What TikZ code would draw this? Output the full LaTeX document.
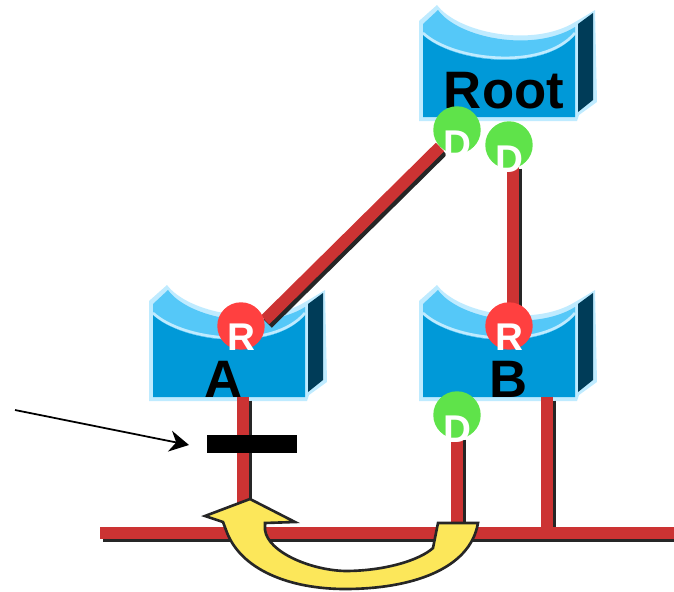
\documentclass[tikz,border=0pt]{standalone}
\usepackage{fontspec}
\setmainfont{Liberation Sans}
\usetikzlibrary{arrows.meta}
\definecolor{bodyblue}{HTML}{0099D8}
\definecolor{topblue}{HTML}{55C8F8}
\definecolor{sideblue}{HTML}{003C58}
\definecolor{haloblue}{HTML}{BFEBFF}
\definecolor{linkred}{HTML}{CC3333}
\definecolor{portgreen}{HTML}{5FE34A}
\definecolor{portred}{HTML}{FF4040}
\definecolor{swapyellow}{HTML}{FCE75A}
\tikzset{
  link/.style = {linkred, line width = 6.8pt},
  linkshade/.style = {black!85, line width = 6.8pt},
  port/.style = {circle, inner sep = 0, minimum size = 27pt},
  letter/.style = {white, inner sep = 0, font = \fontsize{22}{22}\selectfont\bfseries},
  swlabel/.style = {black, inner sep = 0, font = \fontsize{30}{30}\selectfont\bfseries},
  switchbox/.pic = {
    \fill [haloblue] (-4, 13) -- (14, -3) .. controls (35, 25) and (110, 40) .. (152, 14) -- (159, 10) -- (172, 2) -- (174, 94) -- (156, 107) -- (154, 113) -- (-4, 113) -- cycle;
    \fill [topblue] (0, 16) -- (15, 2) .. controls (35, 30) and (110, 45) .. (152, 19) -- (152, 27) .. controls (120, 65) and (30, 55) .. (0, 27) -- cycle;
    \fill [bodyblue] (0, 27) .. controls (30, 55) and (120, 65) .. (152, 27) -- (152, 109) -- (0, 109) -- cycle;
    \draw [haloblue, line width = 1.5pt] (0, 25) .. controls (30, 53) and (120, 63) .. (152, 25);
    \fill [sideblue] (155, 16) -- (170, 5) -- (170, 92) -- (155, 104) -- cycle;
  }
}

\begin{document}
\begin{tikzpicture}[x=0.02cm, y=-0.02cm]
      \useasboundingbox (0, 0) rectangle (674, 592);

      \pic at (423, 8) {switchbox};
      \pic at (153, 288) {switchbox};
      \pic at (423, 288) {switchbox};

      \node [swlabel] (labelRoot) at (504, 91) {Root};
      \node [swlabel] (labelA) at (224, 379) {A};
      \node [swlabel] (labelB) at (509, 379) {B};

      \coordinate (busL) at (100, 533);
      \coordinate (busR) at (674, 533);
      \coordinate (dropA) at (243, 397);
      \coordinate (busA) at (243, 533);
      \coordinate (dropB) at (457, 436);
      \coordinate (busB) at (457, 533);
      \coordinate (dropS) at (547, 397);
      \coordinate (busS) at (547, 533);
      \coordinate (topR) at (513, 165);
      \coordinate (lowR) at (513, 305);
      \coordinate (diagA) at (440, 147);
      \coordinate (diagB) at (265, 320);

      \foreach \from/\to in {diagA/diagB, topR/lowR, dropA/busA, dropB/busB, dropS/busS, busL/busR} {
        \draw [linkshade] ([xshift=1.5pt, yshift=-2pt]\from) -- ([xshift=1.5pt, yshift=-2pt]\to);
        \draw [link] (\from) -- (\to);
      }

      \foreach \name/\x/\y/\col/\txt/\drop in {rootA/457/130/portgreen/D/8pt, rootB/509/145/portgreen/D/8pt, portA/241/326/portred/R/6.5pt, portB/509/326/portred/R/6.5pt, portC/457/415/portgreen/D/8pt} {
        \node [port, fill=\col] (\name) at (\x, \y) {};
        \node [letter] (\name L) at ([yshift=-\drop]\name) {\txt};
      }

      \node [fill=black, inner sep=0, minimum width=51pt, minimum height=10pt] (block) at (252, 444) {};

      \coordinate (pointerS) at (15, 410);
      \coordinate (pointerE) at (189, 445);
      \draw [-{Stealth[length=11pt, width=12pt]}, line width=1pt] (pointerS) -- (pointerE);

      \draw [fill=swapyellow, draw=black!85, line width=1.5pt, miter limit=10]
        (250, 499) -- (295, 522) -- (265, 523) -- (265, 530)
        .. controls (268, 552) and (310, 570) .. (345, 571)
        .. controls (385, 571) and (420, 560) .. (433, 548)
        -- (438, 523) -- (478, 523)
        .. controls (470, 570) and (410, 589) .. (345, 589)
        .. controls (290, 589) and (240, 570) .. (226, 530)
        -- (223, 522) -- (205, 516) -- cycle;
    \end{tikzpicture}
\end{document}
